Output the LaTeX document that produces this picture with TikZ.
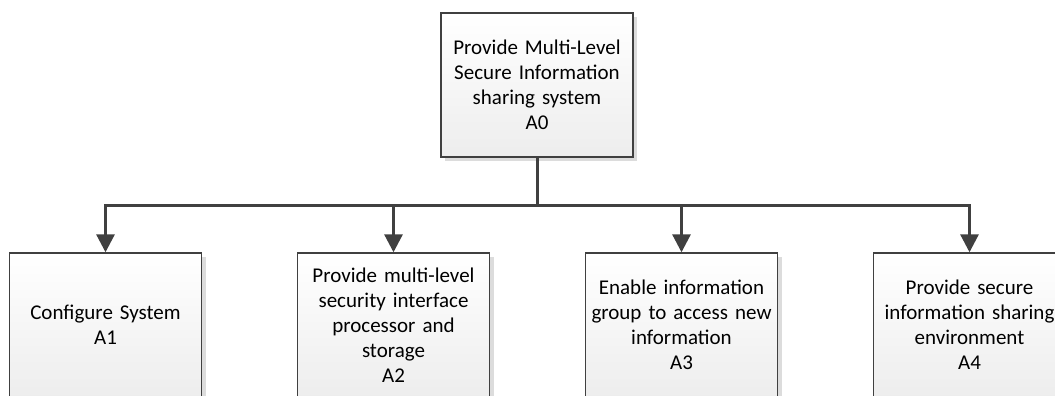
\documentclass[tikz,border=0pt]{standalone}
\usepackage{fontspec}
\setmainfont{Carlito}
\usetikzlibrary{positioning}
\usetikzlibrary{arrows.meta,calc,shadows}
\definecolor{linegray}{HTML}{404040}
\definecolor{shadowgray}{HTML}{DCDCDC}
\tikzset{line/.style={draw=linegray, line width=3pt, -{Triangle[width=18pt,length=18pt]}}}

\begin{document}
\begin{tikzpicture}[x=1pt,y=1pt]
\tikzstyle{block} = [rectangle, draw=linegray, line width=1.4pt, top color=white, bottom color=black!7,
  drop shadow={shadow xshift=4pt, shadow yshift=-4pt, fill=shadowgray, opacity=1},
  text width=180pt, align=center, minimum width=192pt, minimum height=144pt, inner sep=0pt,
  font=\fontsize{21}{25}\selectfont]

\useasboundingbox (0,0) rectangle (1055,-396);

% blocks
    % top
    \node [block] (A0) at (537,-85) {Provide Multi-Level\\ Secure Information\\ sharing system\\ A0};
    \coordinate [below=48pt of A0.south] (bus);
    % children
    \node [block] (A1) at (105.5,-325) {Configure System\\ A1};
    \node [block, right=94.6pt of A1] (A2) {Provide multi-level\\ security interface\\ processor and\\ storage\\ A2};
    \node [block, right=94.6pt of A2] (A3) {Enable information\\ group to access new\\ information\\ A3};
    \node [block, right=94.6pt of A3] (A4) {Provide secure\\ information sharing\\ environment\\ A4};
% arrows
    \draw [draw=linegray, line width=3pt] (A0.south) -- (bus);
    \path [line] (bus) -| (A1.north);
    \path [line] (bus) -| (A2.north);
    \path [line] (bus) -| (A3.north);
    \path [line] (bus) -| (A4.north);
\end{tikzpicture}
\end{document}
